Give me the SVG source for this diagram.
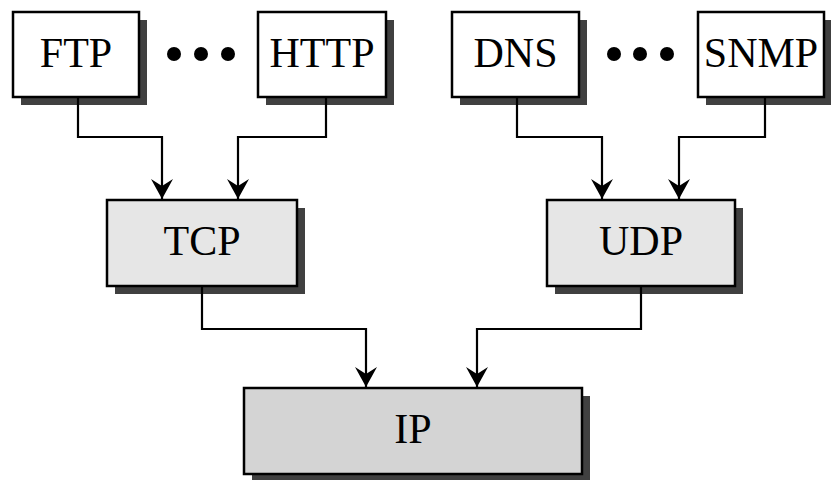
<svg xmlns="http://www.w3.org/2000/svg" width="831" height="480" viewBox="0 0 831 480">
  <defs>
    <marker id="arr" markerUnits="userSpaceOnUse" markerWidth="26" markerHeight="26" viewBox="-23 -13 26 26" refX="0" refY="0" orient="auto">
      <path d="M0,0 L-20,-11 L-13,0 L-20,11 Z" fill="#000"/>
    </marker>
  </defs>
  <style>
    .shadow { fill: #404040; }
    .box { stroke: #000; stroke-width: 2.5; }
    .white { fill: #ffffff; }
    .light { fill: #e6e6e6; }
    .mid { fill: #d4d4d4; }
    .label { font-family: "Liberation Serif", "Times New Roman", serif; font-size: 42px; fill: #000; text-anchor: middle; }
    .conn { fill: none; stroke: #000; stroke-width: 2.2; marker-end: url(#arr); }
    .dot { fill: #000; }
  </style>
  <rect width="831" height="480" fill="#ffffff"/>

  <g id="ftp">
    <rect class="shadow" x="21" y="20" width="126" height="85"/>
    <rect class="box white" x="13" y="12" width="126" height="85"/>
    <text class="label" x="76" y="67">FTP</text>
  </g>
  <g id="http">
    <rect class="shadow" x="266" y="20" width="128" height="85"/>
    <rect class="box white" x="258" y="12" width="128" height="85"/>
    <text class="label" x="322" y="67">HTTP</text>
  </g>
  <g id="dns">
    <rect class="shadow" x="460" y="20" width="127" height="85"/>
    <rect class="box white" x="452" y="12" width="127" height="85"/>
    <text class="label" x="515.5" y="67">DNS</text>
  </g>
  <g id="snmp">
    <rect class="shadow" x="706" y="20" width="126" height="85"/>
    <rect class="box white" x="698" y="12" width="126" height="85"/>
    <text class="label" x="761" y="67">SNMP</text>
  </g>
  <g id="dots-left">
    <circle class="dot" cx="174" cy="54" r="7"/>
    <circle class="dot" cx="201" cy="54" r="7"/>
    <circle class="dot" cx="228" cy="54" r="7"/>
  </g>
  <g id="dots-right">
    <circle class="dot" cx="614" cy="54" r="7"/>
    <circle class="dot" cx="640" cy="54" r="7"/>
    <circle class="dot" cx="667" cy="54" r="7"/>
  </g>
  <g id="tcp">
    <rect class="shadow" x="115" y="208" width="190" height="86"/>
    <rect class="box light" x="107" y="200" width="190" height="86"/>
    <text class="label" x="202" y="255">TCP</text>
  </g>
  <g id="udp">
    <rect class="shadow" x="555" y="208" width="188" height="86"/>
    <rect class="box light" x="547" y="200" width="188" height="86"/>
    <text class="label" x="641" y="255">UDP</text>
  </g>
  <g id="ip">
    <rect class="shadow" x="252" y="396" width="338" height="86"/>
    <rect class="box mid" x="244" y="388" width="338" height="86"/>
    <text class="label" x="413" y="443">IP</text>
  </g>

  <g id="connectors">
    <path class="conn" d="M78,97 V137 H162 V199"/>
    <path class="conn" d="M326,97 V137 H238 V199"/>
    <path class="conn" d="M517,97 V137 H602 V199"/>
    <path class="conn" d="M765,97 V137 H679 V199"/>
    <path class="conn" d="M202,286 V329 H366 V387"/>
    <path class="conn" d="M641,286 V329 H477 V387"/>
  </g>
</svg>
